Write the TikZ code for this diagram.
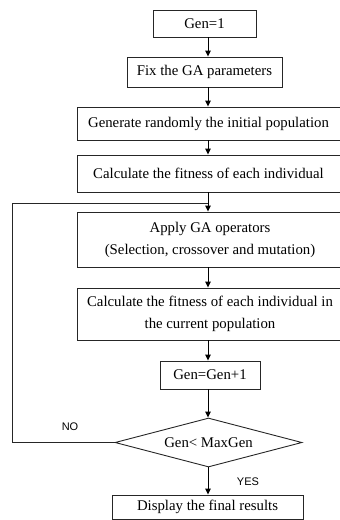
\documentclass[tikz,border=0pt]{standalone}
\usepackage{fontspec}
\setmainfont{Liberation Serif}
\newfontfamily\lblfont{Liberation Sans}
\usetikzlibrary{shapes.geometric,arrows.meta}
\begin{document}
\begin{tikzpicture}[x=1pt,y=-1pt,
  box/.style={draw=black!85,line width=0.9pt,rectangle,inner sep=0pt,
    font=\fontsize{14.8}{22}\selectfont,align=center},
  dia/.style={draw=black!85,line width=0.9pt,diamond,inner sep=0pt,aspect=3.8,
    font=\fontsize{14.8}{22}\selectfont},
  arr/.style={-{Triangle[length=6pt,width=5.5pt]},line width=0.9pt,draw=black},
  lnk/.style={line width=1pt,draw=black!85},
  lbl/.style={font=\lblfont\fontsize{11}{13}\selectfont}]
\useasboundingbox (0,0) rectangle (340,520);

\node[box,minimum width=103pt,minimum height=27pt] (g1) at (204.5,23.5) {Gen=1};
\node[box,minimum width=155pt,minimum height=30pt] (fix) at (204.5,72) {Fix the GA parameters};
\node[box,minimum width=266pt,minimum height=33pt] (gen) at (210,123.5) {\hspace*{-3pt}Generate randomly the initial population};
\node[box,minimum width=266pt,minimum height=37pt] (calc) at (210,173.5) {\hspace*{-3pt}Calculate the fitness of each individual};
\node[box,minimum width=266pt,minimum height=55pt] (apply) at (210,239.5) {Apply GA operators\\(Selection, crossover and mutation)};
\node[box,minimum width=266pt,minimum height=52pt] (calc2) at (210,314) {Calculate the fitness of each individual in\\the current population};
\node[box,minimum width=100pt,minimum height=28pt] (inc) at (210,375) {Gen=Gen+1};
\node[dia,minimum width=187pt,minimum height=49pt] (test) at (208.5,442.5) {Gen< MaxGen};
\node[box,minimum width=191pt,minimum height=24pt] (disp) at (207.5,507) {Display the final results};

\coordinate (ax) at (208,0);
\coordinate (c1) at (12,442.5);
\coordinate (c2) at (12,203);
\coordinate (j) at (208,203);

\draw[arr] (g1.south -| ax) -- (fix.north -| ax);
\draw[arr] (fix.south -| ax) -- (gen.north -| ax);
\draw[arr] (gen.south -| ax) -- (calc.north -| ax);
\draw[arr] (calc.south -| ax) -- (apply.north -| ax);
\draw[arr] (apply.south -| ax) -- (calc2.north -| ax);
\draw[arr] (calc2.south -| ax) -- (inc.north -| ax);
\draw[arr] (inc.south -| ax) -- (test.north -| ax);
\draw[arr] (test.south -| ax) -- (disp.north -| ax);
\draw[lnk] (test.west) -- (c1) -- (c2) -- (j);

\node[lbl] (no) at (70,427) {NO};
\node[lbl] (yes) at (248,481.5) {YES};
\end{tikzpicture}
\end{document}
